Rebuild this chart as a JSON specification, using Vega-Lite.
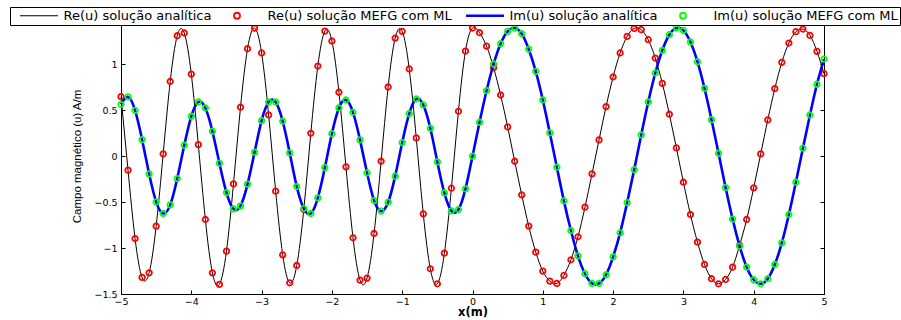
{
  "$schema": "https://vega.github.io/schema/vega-lite/v6.json",
  "width": 703,
  "height": 276,
  "autosize": "none",
  "padding": {"left": 121, "top": 18, "right": 77, "bottom": 26},
  "background": "white",
  "data": {"values": [
    {"x": -5, "re": 0.645, "im": 0.562},
    {"x": -4.9, "re": -0.154, "im": 0.642},
    {"x": -4.8, "re": -0.897, "im": 0.497},
    {"x": -4.7, "re": -1.32, "im": 0.178},
    {"x": -4.6, "re": -1.27, "im": -0.194},
    {"x": -4.5, "re": -0.763, "im": -0.498},
    {"x": -4.4, "re": 0.023, "im": -0.625},
    {"x": -4.3, "re": 0.81, "im": -0.531},
    {"x": -4.2, "re": 1.307, "im": -0.245},
    {"x": -4.1, "re": 1.337, "im": 0.117},
    {"x": -4.0, "re": 0.89, "im": 0.432},
    {"x": -3.9, "re": 0.124, "im": 0.587},
    {"x": -3.8, "re": -0.69, "im": 0.522},
    {"x": -3.7, "re": -1.27, "im": 0.269},
    {"x": -3.6, "re": -1.396, "im": -0.078},
    {"x": -3.5, "re": -1.034, "im": -0.397},
    {"x": -3.4, "re": -0.303, "im": -0.574},
    {"x": -3.3, "re": 0.53, "im": -0.542},
    {"x": -3.2, "re": 1.166, "im": -0.306},
    {"x": -3.1, "re": 1.39, "im": 0.041},
    {"x": -3.0, "re": 1.12, "im": 0.385},
    {"x": -2.9, "re": 0.446, "im": 0.587},
    {"x": -2.8, "re": -0.382, "im": 0.587},
    {"x": -2.7, "re": -1.074, "im": 0.378},
    {"x": -2.6, "re": -1.378, "im": 0.034},
    {"x": -2.5, "re": -1.19, "im": -0.332},
    {"x": -2.4, "re": -0.582, "im": -0.571},
    {"x": -2.3, "re": 0.247, "im": -0.625},
    {"x": -2.2, "re": 0.978, "im": -0.455},
    {"x": -2.1, "re": 1.358, "im": -0.126},
    {"x": -2.0, "re": 1.25, "im": 0.243},
    {"x": -1.9, "re": 0.693, "im": 0.522},
    {"x": -1.8, "re": -0.118, "im": 0.609},
    {"x": -1.7, "re": -0.889, "im": 0.475},
    {"x": -1.6, "re": -1.349, "im": 0.175},
    {"x": -1.5, "re": -1.327, "im": -0.183},
    {"x": -1.4, "re": -0.842, "im": -0.484},
    {"x": -1.3, "re": -0.057, "im": -0.6},
    {"x": -1.2, "re": 0.75, "im": -0.502},
    {"x": -1.1, "re": 1.282, "im": -0.219},
    {"x": -1.0, "re": 1.355, "im": 0.146},
    {"x": -0.9, "re": 0.946, "im": 0.46},
    {"x": -0.8, "re": 0.197, "im": 0.62},
    {"x": -0.7, "re": -0.629, "im": 0.555},
    {"x": -0.6, "re": -1.226, "im": 0.302},
    {"x": -0.5, "re": -1.389, "im": -0.064},
    {"x": -0.4, "re": -1.056, "im": -0.401},
    {"x": -0.3, "re": -0.35, "im": -0.596},
    {"x": -0.2, "re": 0.486, "im": -0.582},
    {"x": -0.1, "re": 1.141, "im": -0.357},
    {"x": 0, "re": 1.391, "im": -0.002},
    {"x": 0.1, "re": 1.34, "im": 0.367},
    {"x": 0.2, "re": 1.195, "im": 0.71},
    {"x": 0.3, "re": 0.96, "im": 1.0},
    {"x": 0.4, "re": 0.663, "im": 1.22},
    {"x": 0.5, "re": 0.316, "im": 1.355},
    {"x": 0.6, "re": -0.057, "im": 1.391},
    {"x": 0.7, "re": -0.422, "im": 1.329},
    {"x": 0.8, "re": -0.762, "im": 1.16},
    {"x": 0.9, "re": -1.045, "im": 0.92},
    {"x": 1.0, "re": -1.251, "im": 0.609},
    {"x": 1.1, "re": -1.36, "im": 0.251},
    {"x": 1.2, "re": -1.385, "im": -0.122},
    {"x": 1.3, "re": -1.298, "im": -0.488},
    {"x": 1.4, "re": -1.128, "im": -0.81},
    {"x": 1.5, "re": -0.878, "im": -1.085},
    {"x": 1.6, "re": -0.556, "im": -1.28},
    {"x": 1.7, "re": -0.194, "im": -1.385},
    {"x": 1.8, "re": 0.175, "im": -1.385},
    {"x": 1.9, "re": 0.537, "im": -1.291},
    {"x": 2.0, "re": 0.859, "im": -1.096},
    {"x": 2.1, "re": 1.12, "im": -0.835},
    {"x": 2.2, "re": 1.3, "im": -0.506},
    {"x": 2.3, "re": 1.387, "im": -0.148},
    {"x": 2.4, "re": 1.373, "im": 0.229},
    {"x": 2.5, "re": 1.264, "im": 0.587},
    {"x": 2.6, "re": 1.065, "im": 0.902},
    {"x": 2.7, "re": 0.79, "im": 1.149},
    {"x": 2.8, "re": 0.454, "im": 1.318},
    {"x": 2.9, "re": 0.088, "im": 1.391},
    {"x": 3.0, "re": -0.285, "im": 1.366},
    {"x": 3.1, "re": -0.636, "im": 1.239},
    {"x": 3.2, "re": -0.936, "im": 1.025},
    {"x": 3.3, "re": -1.179, "im": 0.736},
    {"x": 3.4, "re": -1.334, "im": 0.395},
    {"x": 3.5, "re": -1.389, "im": 0.03},
    {"x": 3.6, "re": -1.342, "im": -0.343},
    {"x": 3.7, "re": -1.208, "im": -0.686},
    {"x": 3.8, "re": -0.97, "im": -0.98},
    {"x": 3.9, "re": -0.69, "im": -1.208},
    {"x": 4.0, "re": -0.346, "im": -1.345},
    {"x": 4.1, "re": 0.023, "im": -1.389},
    {"x": 4.2, "re": 0.392, "im": -1.334},
    {"x": 4.3, "re": 0.732, "im": -1.179},
    {"x": 4.4, "re": 1.018, "im": -0.944},
    {"x": 4.5, "re": 1.228, "im": -0.636},
    {"x": 4.6, "re": 1.351, "im": -0.285},
    {"x": 4.7, "re": 1.38, "im": 0.085},
    {"x": 4.8, "re": 1.311, "im": 0.446},
    {"x": 4.9, "re": 1.138, "im": 0.78},
    {"x": 5.0, "re": 0.895, "im": 1.054}
  ]},
  "encoding": {
    "x": {
      "field": "x",
      "type": "quantitative",
      "scale": {"domain": [-5, 5], "nice": false, "zero": false},
      "axis": {
        "values": [-5, -4, -3, -2, -1, 0, 1, 2, 3, 4, 5],
        "format": "~g",
        "title": "x(m)",
        "titleFont": "DejaVu Sans",
        "titleFontWeight": "bold",
        "titleFontSize": 11.5,
        "titlePadding": 1,
        "labelPadding": 6,
        "labelFlush": false
      }
    }
  },
  "layer": [
    {
      "mark": {"type": "line", "interpolate": "natural", "strokeWidth": 1},
      "encoding": {
        "y": {
          "field": "re",
          "type": "quantitative",
          "scale": {"domain": [-1.5, 1.5], "nice": false, "zero": false},
          "axis": {
            "orient": "left",
            "values": [-1.5, -1, -0.5, 0, 0.5, 1],
            "format": "~g",
            "title": "Campo magnético (u) A/m",
            "titleFont": "Liberation Sans",
            "titleFontWeight": "normal",
            "titleFontSize": 11.5,
            "titlePadding": 11,
            "labelPadding": 8
          }
        },
        "color": {
          "datum": "Re(u) solução analítica",
          "type": "nominal",
          "scale": {
            "domain": ["Re(u) solução analítica", "Re(u) solução MEFG com ML", "Im(u) solução analítica", "Im(u) solução MEFG com ML"],
            "range": ["#000000", "#ff0000", "#0000ff", "#00ff00"]
          },
          "legend": {
            "orient": "none",
            "legendX": -111,
            "legendY": -11,
            "direction": "horizontal",
            "title": null,
            "padding": 2,
            "strokeColor": "black",
            "fillColor": "white",
            "labelFont": "DejaVu Sans",
            "labelFontSize": 13,
            "labelColor": "black",
            "labelLimit": 0,
            "labelOffset": 18,
            "symbolOffset": 20.5,
            "columnPadding": 4,
            "symbolSize": 36,
            "encode": {
              "symbols": {
                "update": {
                  "shape": {"signal": "test(/anal/, datum.value) ? 'M-7.67,0M-6.33,0H6.33' : 'M-7.67,0M6.33,0M-1,0A1,1,0,1,1,-3,0A1,1,0,1,1,-1,0Z'"},
                  "strokeWidth": {"signal": "datum.value == 'Im(u) solução analítica' ? 2.6 : (test(/anal/, datum.value) ? 1 : 1.8)"},
                  "stroke": {"signal": "scale('color', datum.value)"},
                  "fill": {"value": "transparent"},
                  "size": {"value": 36},
                  "opacity": {"value": 1}
                }
              }
            }
          }
        }
      }
    },
    {
      "mark": {"type": "point", "filled": false, "size": 30, "strokeWidth": 1.8, "opacity": 1},
      "encoding": {
        "y": {"field": "re", "type": "quantitative", "scale": {"domain": [-1.5, 1.5], "nice": false, "zero": false}, "axis": null},
        "color": {"datum": "Re(u) solução MEFG com ML", "type": "nominal"}
      }
    },
    {
      "mark": {"type": "line", "interpolate": "natural", "strokeWidth": 2.6},
      "encoding": {
        "y": {
          "field": "im",
          "type": "quantitative",
          "scale": {"domain": [-1.5, 1.5], "nice": false, "zero": false},
          "axis": {
            "orient": "right",
            "values": [-1.5, -1, -0.5, 0, 0.5, 1, 1.5],
            "labels": false,
            "domain": false,
            "title": null
          }
        },
        "color": {"datum": "Im(u) solução analítica", "type": "nominal"}
      }
    },
    {
      "mark": {"type": "point", "filled": false, "size": 30, "strokeWidth": 1.8, "opacity": 1},
      "encoding": {
        "y": {"field": "im", "type": "quantitative", "scale": {"domain": [-1.5, 1.5], "nice": false, "zero": false}, "axis": null},
        "color": {"datum": "Im(u) solução MEFG com ML", "type": "nominal"}
      }
    }
  ],
  "resolve": {"axis": {"y": "independent"}},
  "config": {
    "view": {"stroke": "black", "strokeWidth": 1},
    "axis": {
      "grid": false,
      "domainColor": "black",
      "domainWidth": 1,
      "tickColor": "black",
      "tickWidth": 1,
      "tickSize": -4,
      "labelColor": "black",
      "titleColor": "black",
      "labelFont": "DejaVu Sans",
      "labelFontSize": 9.5
    }
  }
}
